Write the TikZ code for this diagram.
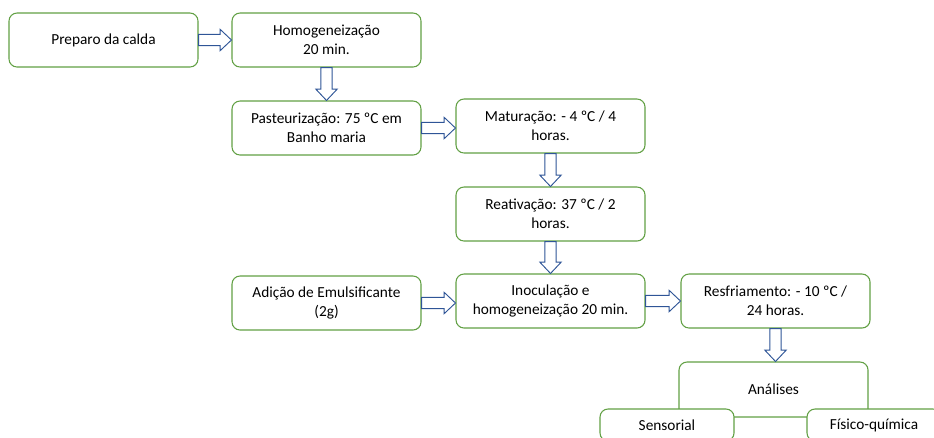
\documentclass[tikz,border=0pt]{standalone}
\usepackage{fontspec}
\setmainfont{Carlito}
\usetikzlibrary{calc}
\definecolor{boxgreen}{HTML}{62A044}
\definecolor{arrowblue}{HTML}{2F5597}
\begin{document}
\begin{tikzpicture}[x=0.75pt,y=-0.75pt,
	box/.style={draw=boxgreen,line width=0.8pt,rounded corners=6pt,fill=white,
		minimum width=141.75pt,minimum height=40.5pt,align=center,inner sep=2pt,
		font=\fontsize{11.5}{14}\selectfont},
	smallbox/.style={box,minimum width=100.5pt,minimum height=24pt},
	hollow/.style={draw=arrowblue,fill=white,line width=0.7pt,line join=miter,
		to path={let \p1=($(\tikztotarget)!8.5pt!(\tikztostart)$) in
			($(\tikztostart)!4.2pt!90:(\tikztotarget)$) -- ($(\p1)!4.2pt!90:(\tikztotarget)$)
			-- ($(\p1)!8pt!90:(\tikztotarget)$) -- (\tikztotarget)
			-- ($(\p1)!8pt!-90:(\tikztotarget)$) -- ($(\p1)!4.2pt!-90:(\tikztotarget)$)
			-- ($(\tikztostart)!4.2pt!-90:(\tikztotarget)$) -- cycle}}]
	\useasboundingbox (0,0) rectangle (934,437);
	\clip (0,0) rectangle (934,437);
	\path
	(103.5,40)  node[box] (prep)  {Preparo da calda}
	(326.5,40)  node[box] (homog) {Homogeneização\\20 min.}
	(326.5,128) node[box] (paste) {Pasteurização: 75 ºC em\\Banho maria}
	(550.5,126) node[box] (matur) {Maturação: - 4 ºC / 4\\horas.}
	(550.5,214) node[box] (reat)  {Reativação: 37 ºC / 2\\horas.}
	(326.5,303) node[box] (emul)  {Adição de Emulsificante\\(2g)}
	(550.5,301) node[box] (inoc)  {Inoculação e\\homogeneização 20 min.}
	(775.5,301) node[box] (resf)  {Resfriamento: - 10 ºC /\\24 horas.}
	(773.5,389.5) node[box,minimum height=41.25pt] (anal) {Análises}
	(667,425)   node[smallbox] (sens) {Sensorial}
	(874,425)   node[smallbox] (fisq) {Físico-química};
	\path[hollow] (prep.east) to (homog.west);
	\path[hollow] (homog.south) to (paste.north);
	\path[hollow] (paste.east) to (paste.east -| matur.west);
	\path[hollow] (matur.south) to (reat.north);
	\path[hollow] (reat.south) to (inoc.north);
	\path[hollow] (emul.east) to (emul.east -| inoc.west);
	\path[hollow] (inoc.east) to (resf.west);
	\path[hollow] (resf.south) to (resf.south |- anal.north);
\end{tikzpicture}
\end{document}
